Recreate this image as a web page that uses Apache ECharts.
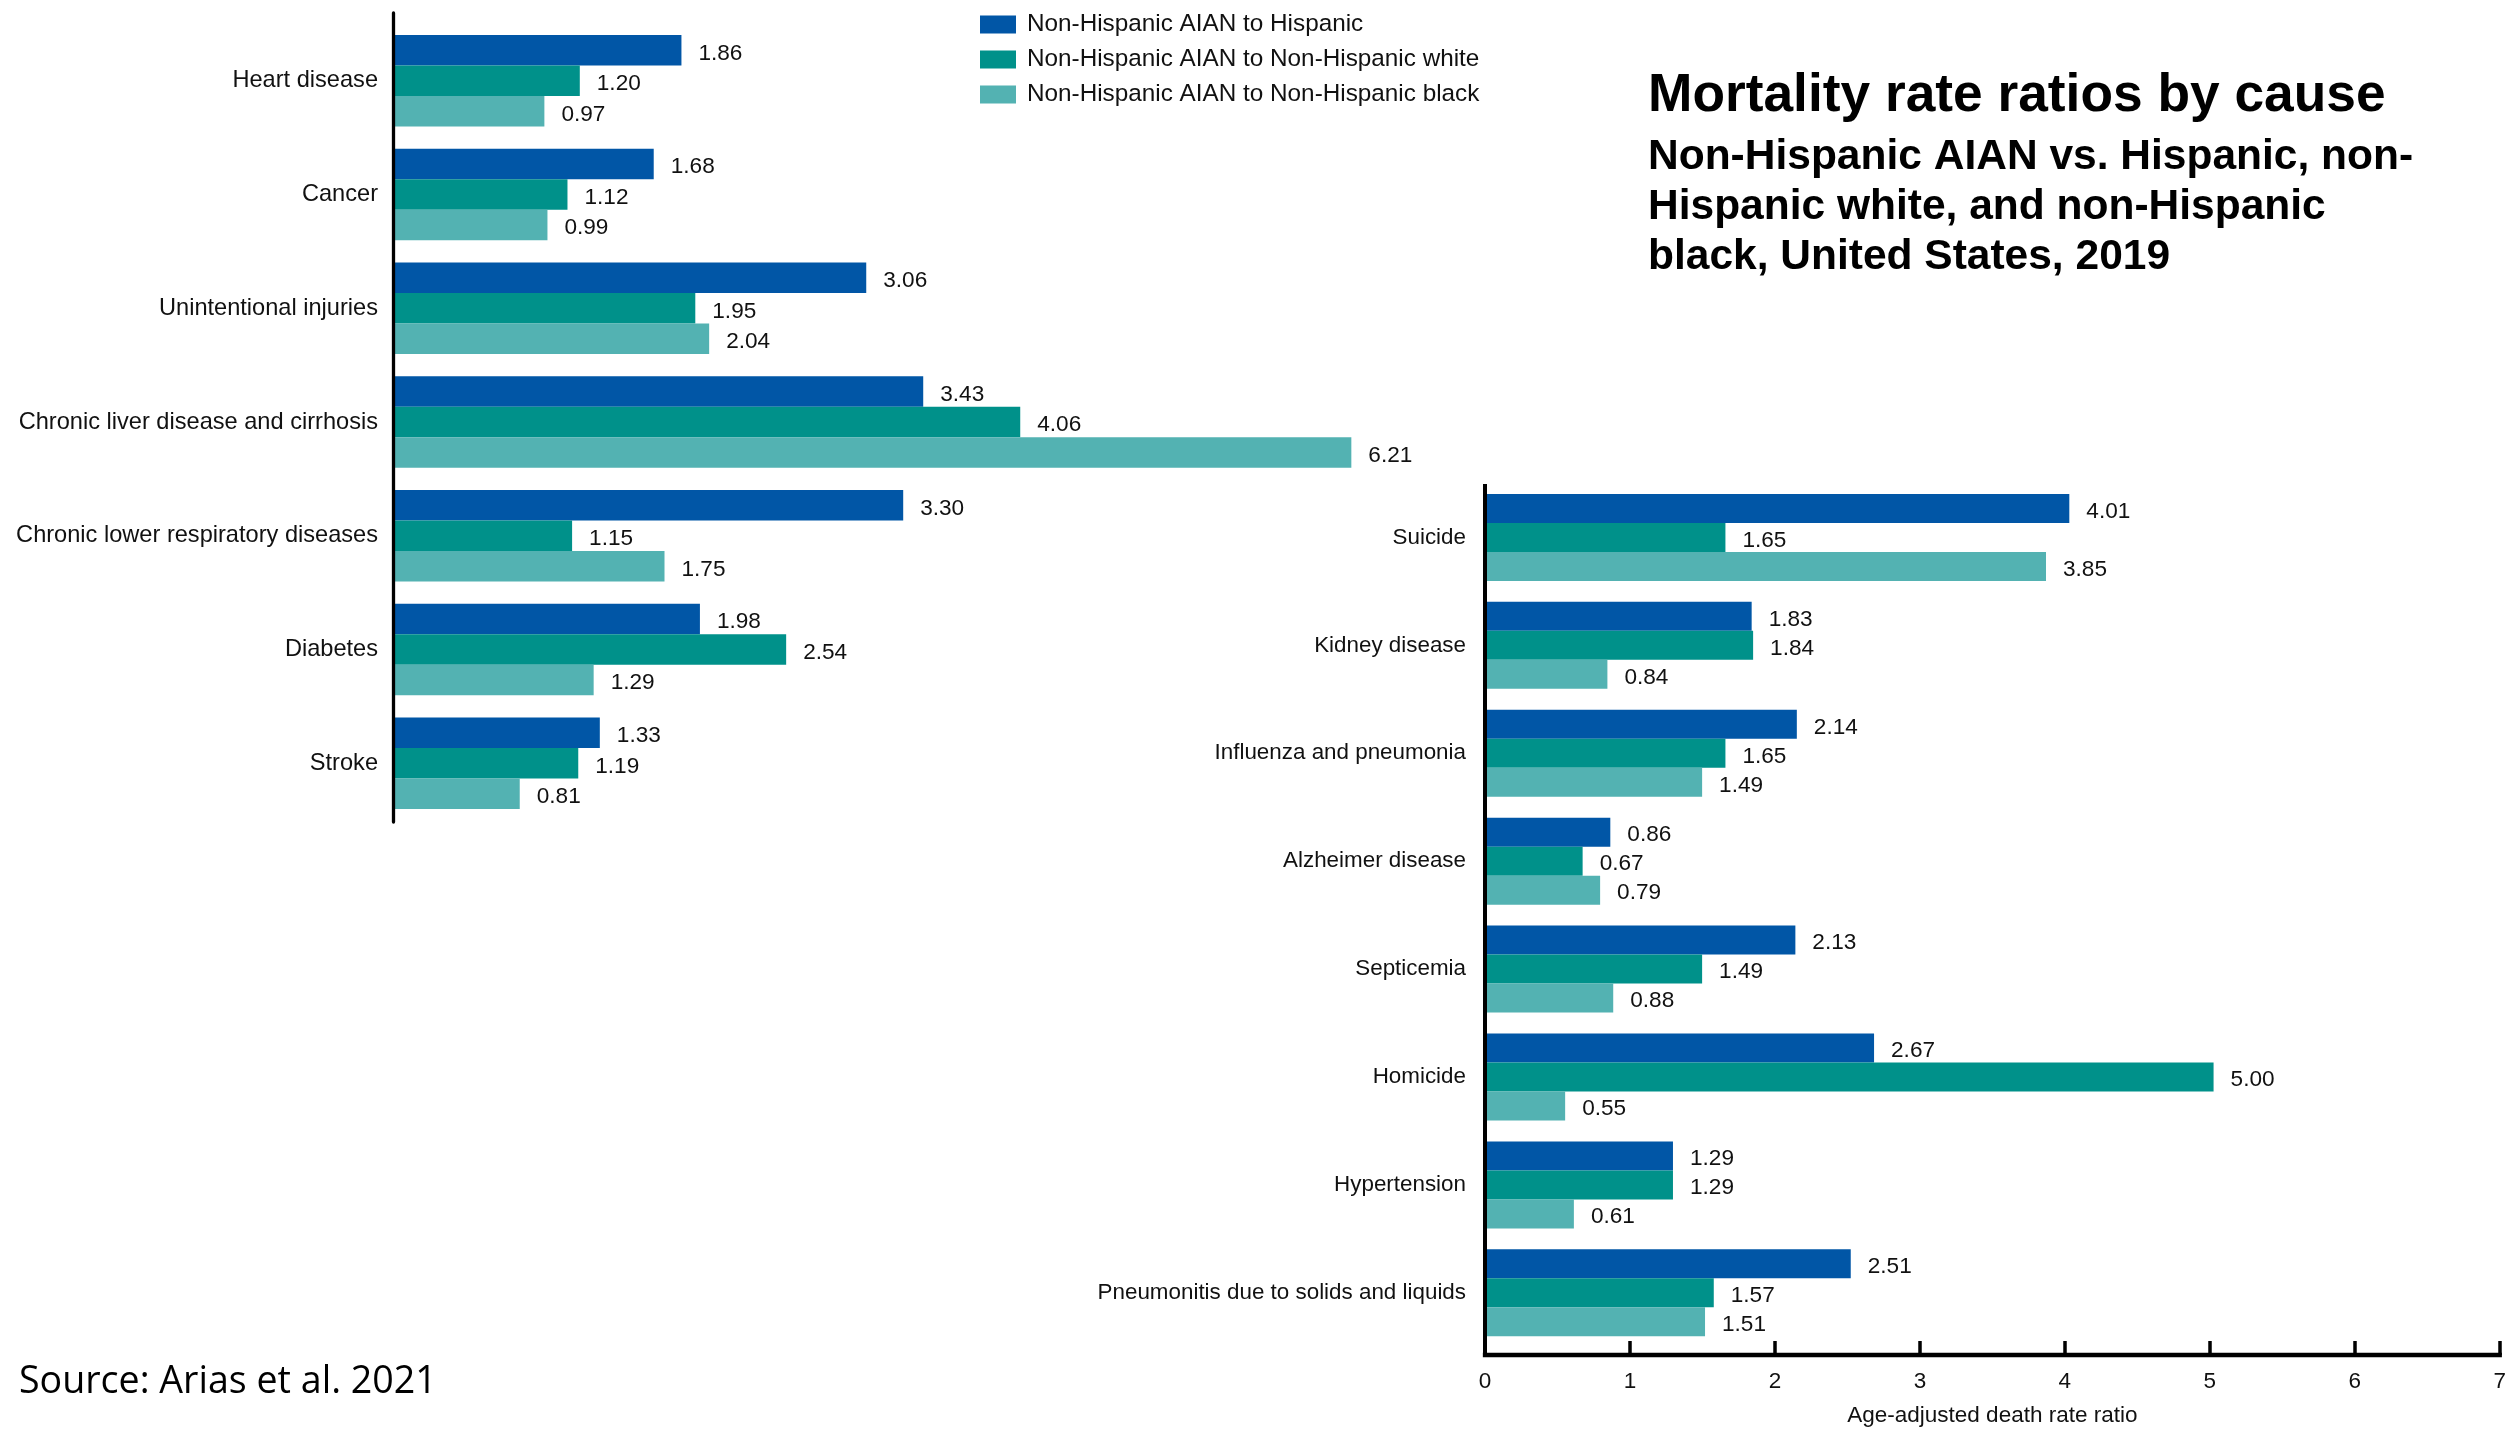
<!DOCTYPE html>
<html>
<head>
<meta charset="utf-8">
<title>Mortality rate ratios by cause</title>
<script src="https://cdn.jsdelivr.net/npm/echarts@6/dist/echarts.min.js"></script>
<style>
  html, body { margin: 0; padding: 0; background: #ffffff; }
  #chart { width: 2509px; height: 1432px; }
</style>
</head>
<body>
<div id="chart"></div>
<script>
// Leading causes (upper panel)
const leftCauses = [
  'Heart disease', 'Cancer', 'Unintentional injuries',
  'Chronic liver disease and cirrhosis', 'Chronic lower respiratory diseases',
  'Diabetes', 'Stroke'
];
const leftToHispanic = [1.86, 1.68, 3.06, 3.43, 3.30, 1.98, 1.33];
const leftToWhite    = [1.20, 1.12, 1.95, 4.06, 1.15, 2.54, 1.19];
const leftToBlack    = [0.97, 0.99, 2.04, 6.21, 1.75, 1.29, 0.81];

// Remaining causes (lower panel)
const rightCauses = [
  'Suicide', 'Kidney disease', 'Influenza and pneumonia', 'Alzheimer disease',
  'Septicemia', 'Homicide', 'Hypertension', 'Pneumonitis due to solids and liquids'
];
const rightToHispanic = [4.01, 1.83, 2.14, 0.86, 2.13, 2.67, 1.29, 2.51];
const rightToWhite    = [1.65, 1.84, 1.65, 0.67, 1.49, 5.00, 1.29, 1.57];
const rightToBlack    = [3.85, 0.84, 1.49, 0.79, 0.88, 0.55, 0.61, 1.51];

const seriesNames = [
  'Non-Hispanic AIAN to Hispanic',
  'Non-Hispanic AIAN to Non-Hispanic white',
  'Non-Hispanic AIAN to Non-Hispanic black'
];
const xTicks = [0, 1, 2, 3, 4, 5, 6, 7];

const colors = ['#0156a6', '#00918a', '#53b2b2'];
const FONT = '"Liberation Sans", Arial, Helvetica, sans-serif';

const chart = echarts.init(document.getElementById('chart'), null, { renderer: 'canvas' });

function barSeries(name, data, idx, axisIdx, width) {
  return {
    type: 'bar',
    name: name,
    data: data,
    xAxisIndex: axisIdx,
    yAxisIndex: axisIdx,
    barWidth: width,
    barGap: '0%',
    itemStyle: { color: colors[idx] },
    label: {
      show: true,
      position: 'right',
      distance: 17,
      offset: [0, 3],
      formatter: p => p.value.toFixed(2),
      fontFamily: FONT,
      fontSize: 22.6,
      color: '#111'
    },
    emphasis: { disabled: true },
    animation: false
  };
}

const hiddenValueAxis = (grid) => ({
  gridIndex: grid, type: 'value', min: 0, max: xTicks[xTicks.length - 1], show: false
});

const option = {
  backgroundColor: '#ffffff',
  animation: false,
  textStyle: { fontFamily: FONT },
  title: [
    {
      text: 'Mortality rate ratios by cause',
      left: 1648, top: 70, padding: 0,
      textStyle: { fontFamily: FONT, fontSize: 53.3, fontWeight: 'bold', color: '#000' }
    },
    {
      text: 'Non-Hispanic AIAN vs. Hispanic, non-\nHispanic white, and non-Hispanic\nblack, United States, 2019',
      left: 1648, top: 132, padding: 0,
      textStyle: { fontFamily: FONT, fontSize: 42.5, fontWeight: 'bold', color: '#000', lineHeight: 50 }
    },
    {
      text: 'Source: Arias et al. 2021',
      left: 19, top: 1363, padding: 0,
      textStyle: { fontFamily: '"Open Sans", sans-serif', fontSize: 37.6, fontWeight: 'normal', color: '#000' }
    }
  ],
  legend: {
    data: seriesNames,
    orient: 'vertical',
    left: 975, top: 7.5,
    itemWidth: 36, itemHeight: 18, itemGap: 11,
    icon: 'rect',
    selectedMode: false,
    textStyle: { fontFamily: FONT, fontSize: 24.3, color: '#111', lineHeight: 24, padding: [0, 0, 0, 6] }
  },
  grid: [
    // bars, upper panel
    { left: 395, top: 23.9, width: 1078, height: 796.3, containLabel: false },
    // bars, lower panel
    { left: 1485, top: 483.5, width: 1020, height: 863.3, containLabel: false },
    // axis frame, upper panel
    { left: 393.5, top: 13, width: 1078, height: 809, containLabel: false },
    // axis frame, lower panel
    { left: 1485, top: 486, width: 1020, height: 869.5, containLabel: false }
  ],
  xAxis: [
    hiddenValueAxis(0),
    hiddenValueAxis(1),
    { gridIndex: 2, type: 'value', min: 0, max: 1, show: false },
    {
      gridIndex: 3, type: 'value', min: 0, max: xTicks[xTicks.length - 1], interval: 1, z: 5,
      axisLine: { show: true, lineStyle: { color: '#000', width: 4.3, cap: 'square' } },
      axisTick: { show: true, inside: true, length: 14, lineStyle: { color: '#000', width: 3.5 } },
      axisLabel: { show: true, margin: 15, fontFamily: FONT, fontSize: 22.5, color: '#111',
                   formatter: v => String(v) },
      splitLine: { show: false },
      name: 'Age-adjusted death rate ratio',
      nameLocation: 'middle',
      nameGap: 49,
      nameTextStyle: { fontFamily: FONT, fontSize: 22.5, color: '#111' }
    }
  ],
  yAxis: [
    {
      gridIndex: 0, type: 'category', inverse: true, data: leftCauses,
      axisLine: { show: false }, axisTick: { show: false },
      axisLabel: { fontFamily: FONT, fontSize: 23.6, color: '#111', margin: 17, padding: [5, 0, 0, 0] }
    },
    {
      gridIndex: 1, type: 'category', inverse: true, data: rightCauses,
      axisLine: { show: false }, axisTick: { show: false },
      axisLabel: { fontFamily: FONT, fontSize: 22.4, color: '#111', margin: 19, padding: [4, 0, 0, 0] }
    },
    {
      gridIndex: 2, type: 'value', min: 0, max: 1, z: 5,
      axisLine: { show: true, lineStyle: { color: '#000', width: 3.3 } },
      axisTick: { show: false }, axisLabel: { show: false }, splitLine: { show: false }
    },
    {
      gridIndex: 3, type: 'value', min: 0, max: 1, z: 5,
      axisLine: { show: true, lineStyle: { color: '#000', width: 4, cap: 'square' } },
      axisTick: { show: false }, axisLabel: { show: false }, splitLine: { show: false }
    }
  ],
  series: [
    barSeries(seriesNames[0], leftToHispanic, 0, 0, 30.5),
    barSeries(seriesNames[1], leftToWhite, 1, 0, 30.5),
    barSeries(seriesNames[2], leftToBlack, 2, 0, 30.5),
    barSeries(seriesNames[0], rightToHispanic, 0, 1, 29),
    barSeries(seriesNames[1], rightToWhite, 1, 1, 29),
    barSeries(seriesNames[2], rightToBlack, 2, 1, 29)
  ]
};

chart.setOption(option);
</script>
</body>
</html>
